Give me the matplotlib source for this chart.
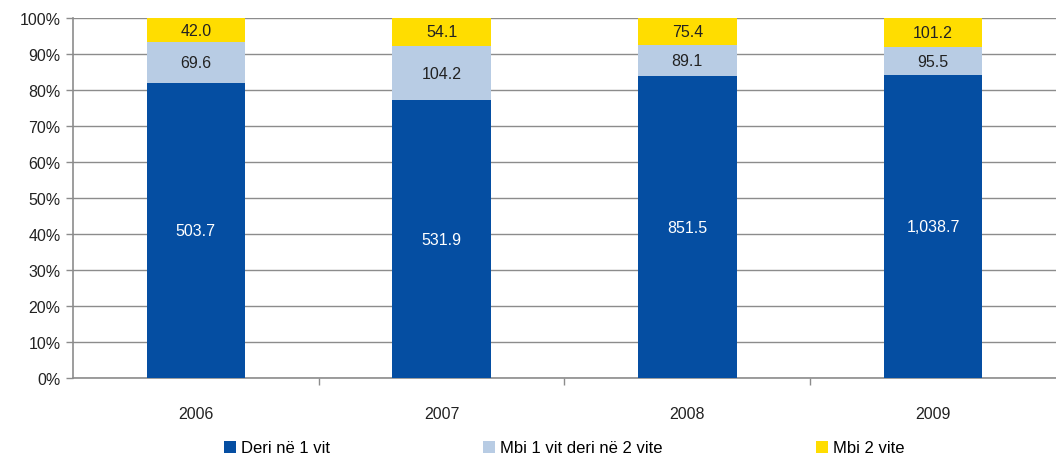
import numpy as np
import matplotlib.pyplot as plt
from matplotlib.ticker import PercentFormatter

plt.rcParams['font.family'] = ['Liberation Sans', 'DejaVu Sans']

years = ['2006', '2007', '2008', '2009']
deri_1 = [503.7, 531.9, 851.5, 1038.7]
mbi_1_2 = [69.6, 104.2, 89.1, 95.5]
mbi_2 = [42.0, 54.1, 75.4, 101.2]
series_names = ['Deri në 1 vit', 'Mbi 1 vit deri në 2 vite', 'Mbi 2 vite']
colors = ['#054ea2', '#b8cce4', '#ffdd00']
text_colors = ['white', '#222222', '#222222']

data = np.array([deri_1, mbi_1_2, mbi_2])
shares = data / data.sum(axis=0) * 100

fig = plt.figure(figsize=(10.56, 4.6), dpi=100)
ax = fig.add_axes([0.0691, 0.176, 0.9309, 0.783])

x = np.arange(len(years))
bottom = np.zeros(len(years))
for vals, share, name, col, tcol in zip(data, shares, series_names, colors, text_colors):
    ax.bar(x, share, width=0.4, bottom=bottom, color=col, label=name, zorder=3)
    for xi, b, s, v in zip(x, bottom, share, vals):
        ax.text(xi, b + s / 2, f'{v:,.1f}', ha='center', va='center',
                color=tcol, fontsize=11.5, zorder=4)
    bottom += share

ax.set_xlim(-0.5, len(years) - 0.5)
ax.set_ylim(0, 100)
ax.set_yticks(np.arange(0, 101, 10))
ax.yaxis.set_major_formatter(PercentFormatter(decimals=0))
ax.yaxis.grid(True, color='#8c8c8c', linewidth=1, zorder=0)

ax.set_xticks(x)
ax.set_xticklabels(years)
ax.set_xticks(np.arange(0.5, len(years) - 1, 1), minor=True)
ax.tick_params(axis='x', which='major', length=0, pad=20, labelsize=11.5, colors='#222222')
ax.tick_params(axis='x', which='minor', length=5, color='#8c8c8c', width=1)
ax.tick_params(axis='y', length=5, color='#8c8c8c', width=1, labelsize=11.5,
               labelcolor='#222222', pad=4)

for side in ['top', 'right']:
    ax.spines[side].set_visible(False)
for side in ['left', 'bottom']:
    ax.spines[side].set_color('#8c8c8c')
    ax.spines[side].set_linewidth(1.2)

fig.legend(loc='lower left', bbox_to_anchor=(0.198, -0.025), ncol=3, frameon=False,
           fontsize=12, handlelength=0.72, handleheight=0.72, handletextpad=0.3,
           columnspacing=9.2)

fig.savefig('out.png', dpi=100)
